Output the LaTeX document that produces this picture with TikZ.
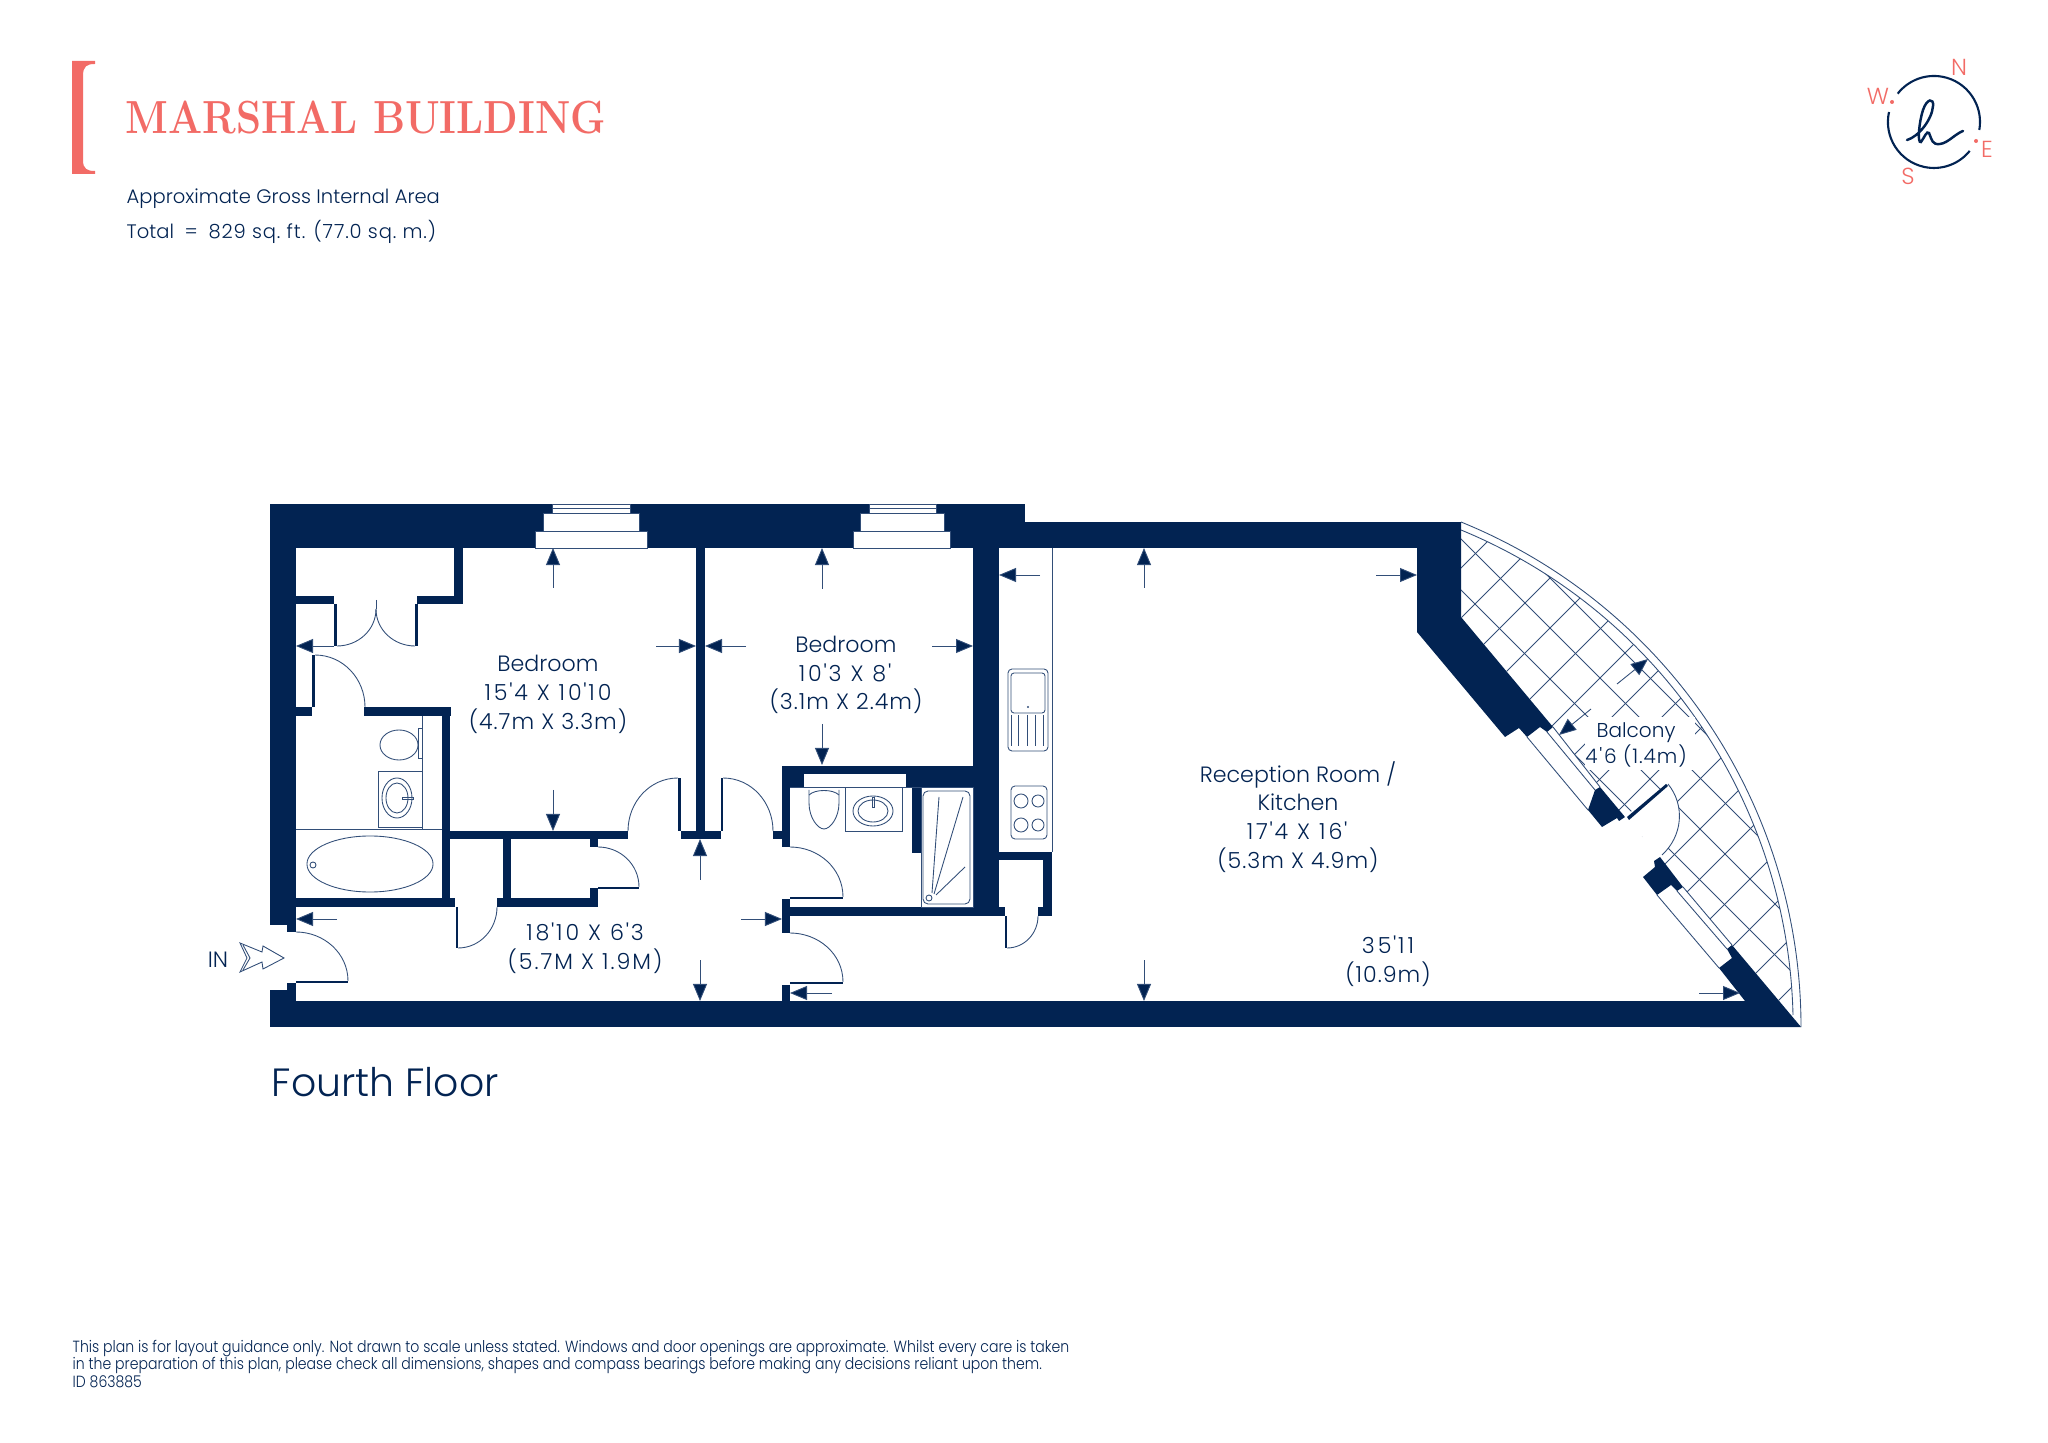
\documentclass[tikz,border=0pt]{standalone}
\usepackage{fontspec}
\setsansfont{Poppins}[UprightFont=*-Light]
\newfontfamily\footfont{Poppins}[UprightFont=*-Light,FakeStretch=0.87]
\usetikzlibrary{arrows.meta}
\definecolor{navy}{RGB}{2,35,82}
\definecolor{linecol}{RGB}{50,78,120}
\definecolor{salmon}{RGB}{242,107,102}
\newcommand{\ft}{\kern.5pt\textquotesingle\kern.5pt}
\newcommand{\feet}[1]{{\addfontfeature{LetterSpace=13}#1}}
\newcommand{\hallsize}[1]{{\addfontfeature{LetterSpace=9}#1}}
\newcommand{\metres}[1]{{\addfontfeature{LetterSpace=4.5}#1}}
\tikzset{
    wallfill/.style={fill=navy},
    thinline/.style={draw=linecol,line width=0.25pt},
    dimarrow/.style={draw=linecol,line width=0.25pt,-{Triangle[length=1.7mm,width=1.4mm,fill=navy]}},
    roomlabel/.style={text=navy,align=center,inner sep=0pt,font=\sffamily\fontsize{6.3}{8.2}\selectfont},
    plainlabel/.style={text=navy,anchor=west,inner sep=0pt,font=\sffamily\fontsize{5.55}{7}\selectfont},
    compasslabel/.style={text=salmon,inner sep=0pt,font=\sffamily\fontsize{6.6}{7}\selectfont}
}
\begin{document}
\begin{tikzpicture}[x=0.01cm,y=-0.01cm]
    \useasboundingbox (0,0) rectangle (2048,1443);
    % walls
    \foreach \xa/\ya/\xb/\yb in {270/504/1025/548,1025/522/1461/548,270/504/296/925,287/925/296/932,
        270/990/296/1027,287/983/296/990,270/1001/1745/1027,296/596/334/604,334/604/337/646,
        417/596/463/604,454/548/463/604,415/604/418/646,312/655/315/707,296/707/312/716,
        364/707/451/716,442/716/450/907,296/898/455/907,497/898/598/907,456/907/458/948,
        450/831/628/839,503/839/511/898,590/839/598/847,590/888/598/898,598/887/639/889,
        696/548/705/831,678/778/681/831,681/831/721/839,721/778/723/831,773/831/782/839,
        782/766/790/847,782/766/973/774,790/774/804/787,906/774/973/787,912/787/921/853,
        790/907/973/916,782/899/790/933,790/897/843/899,790/982/843/984,782/985/790/1001,
        973/548/999/916,999/907/1005/916,1005/916/1007/948,999/852/1052/860,1043/860/1052/916,
        1038/907/1052/916,296/1001/1745/1027}
        \fill[wallfill] (\xa,\ya) rectangle (\xb,\yb);
    \fill[wallfill] (1417,548) -- (1461,522) -- (1461,617) -- (1553,727) -- (1547,732) -- (1540,727)
        -- (1527,737) -- (1519,728) -- (1505,737) -- (1417,632) -- cycle;
    \fill[wallfill] (1417,522) rectangle (1461,632);
    \fill[wallfill] (1595,790) -- (1600,787) -- (1625,817) -- (1619,821) -- (1617,818) -- (1602,827) -- (1588,810) -- cycle;
    \fill[wallfill] (1654,861) -- (1660,857) -- (1683,887) -- (1677,891) -- (1671,885) -- (1657,895) -- (1643,877) -- (1655,867) -- cycle;
    \fill[wallfill] (1727,949) -- (1732,945) -- (1801,1027) -- (1700,1027) -- (1745,1001) -- (1719,968) -- (1732,958) -- cycle;
    % windows in the top wall
    \foreach \xa/\xb/\xc/\xd/\xe/\xf in {552/630/543/639/535/647,869/936/860/944/853/950} {
        \filldraw[fill=white,thinline] (\xa,504) rectangle (\xb,513);
        \filldraw[fill=white,thinline] (\xc,513) rectangle (\xd,531);
        \filldraw[fill=white,thinline] (\xe,531) rectangle (\xf,548);
        \draw[thinline] (\xa,508) -- (\xb,508);
    }
    \filldraw[fill=white,draw=none] (804,774) rectangle (906,787);
    % balcony
    \draw[thinline] (1461,522) .. controls (1666.6,605.5) and (1801,805) .. (1801,1027);
    \draw[thinline] (1461,530) .. controls (1658,611) and (1788,802) .. (1793,1015);
    \begin{scope}
        \clip (1461,530) .. controls (1658,611) and (1788,802) .. (1793,1015) -- (1801,1027) -- (1732,945)
            -- (1683,887) -- (1660,857) -- (1625,817) -- (1600,787) -- (1553,727) -- (1461,617) -- cycle;
        \foreach \c in {2029,2079,2128,2178,2229,2278,2329,2379,2429,2479,2529,2579,2629,2679,2729,2779}
            \draw[thinline] (1400,\c-1400) -- (1850,\c-1850);
        \foreach \d in {972,922,871,820}
            \draw[thinline] (1400,1400-\d) -- (1850,1850-\d);
        \fill[white] (1585,717) rectangle (1695,770);
        \fill[white] (1620,820) -- (1668,784) to[out=-51,in=42.6] (1662,855) -- (1650,862) -- cycle;
    \end{scope}
    \fill[wallfill] (1627,817) -- (1666,784) -- (1668,786) -- (1629,820) -- cycle;
    \draw[thinline] (1527,737) -- (1588,810);
    \draw[thinline] (1547,732) -- (1595,790);
    \draw[thinline] (1553,727) -- (1600,787);
    \draw[thinline] (1657,895) -- (1719,968);
    \draw[thinline] (1677,891) -- (1727,949);
    \draw[thinline] (1683,887) -- (1732,945);
    \draw[thinline] (1668,784) to[out=-51,in=42.6] (1662,855);
    % doors
    \draw[thinline] (337,646) to[out=0,in=-90] (376,609);
    \draw[thinline] (415,646) to[out=180,in=-90] (376,609);
    \draw[thinline] (376,600) -- (376,609);
    \draw[thinline] (315,655) to[out=0,in=90] (365,707);
    \draw[thinline] (678,778) to[out=180,in=90] (628,831);
    \draw[thinline] (723,778) to[out=0,in=90] (773,831);
    \draw[thinline] (790,847) to[out=0,in=90] (843,897);
    \draw[thinline] (790,933) to[out=0,in=90] (843,982);
    \draw[thinline] (598,847) to[out=0,in=90] (639,887);
    \draw[thinline] (458,948) to[out=0,in=-90] (497,907);
    \draw[thinline] (1007,948) to[out=0,in=-90] (1038,916);
    \draw[thinline] (296,932) to[out=0,in=90] (348,981);
    \fill[wallfill] (296,981) rectangle (348,983);
    % first bathroom
    \draw[thinline] (422,716) -- (422,829);
    \draw[thinline] (296,829) -- (442,829);
    \draw[thinline] (399,745) ellipse[x radius=.19cm,y radius=.15cm];
    \draw[thinline] (418,728) rectangle (422,758);
    \draw[thinline] (378,771) rectangle (422,827);
    \draw[thinline] (397,798) ellipse[x radius=.15cm,y radius=.20cm];
    \draw[thinline] (397,798) ellipse[x radius=.11cm,y radius=.15cm];
    \draw[thinline] (402,797) rectangle (413,799);
    \draw[thinline] (370,864) ellipse[x radius=.63cm,y radius=.28cm];
    \draw[thinline] (313,865) circle[radius=.03cm];
    % second bathroom
    \draw[thinline] (790,787) -- (921,787);
    \draw[thinline] (921,787) -- (921,907);
    \draw[thinline] (921,787) rectangle (973,907);
    \draw[thinline,rounded corners=.5mm] (923,791) rectangle (970,904);
    \draw[thinline] (929,898) circle[radius=.03cm];
    \draw[thinline] (932,893) -- (939,797);
    \draw[thinline] (934,894) -- (963,797);
    \draw[thinline] (936,895) -- (965,867);
    \draw[thinline] (809,790) -- (809,803) .. controls (809,818) and (818,829) .. (824,829) .. controls (830,829) and (839,818) .. (839,803) -- (839,790);
    \draw[thinline] (809,795) .. controls (815,789) and (833,789) .. (839,795);
    \draw[thinline] (845,787) rectangle (902,831);
    \draw[thinline] (873,811) ellipse[x radius=.20cm,y radius=.15cm];
    \draw[thinline] (873,811) ellipse[x radius=.15cm,y radius=.11cm];
    \draw[thinline] (872,797) rectangle (874,807);
    % kitchen
    \draw[thinline] (1052,548) -- (1052,852);
    \draw[thinline,rounded corners=.4mm] (1008,669) rectangle (1048,751);
    \draw[thinline,rounded corners=.3mm] (1011,673) rectangle (1045,713);
    \fill[linecol] (1028,707) circle[radius=.012cm];
    \foreach \x in {1011,1018,1027,1035,1043}
        \draw[thinline] (\x,715) -- (\x,746);
    \draw[thinline,rounded corners=.4mm] (1011,786) rectangle (1047,839);
    \draw[thinline] (1021,801) circle[radius=.07cm];
    \draw[thinline] (1038,801) circle[radius=.06cm];
    \draw[thinline] (1021,825) circle[radius=.07cm];
    \draw[thinline] (1038,825) circle[radius=.06cm];
    % dimension arrows
    \foreach \xa/\ya/\xb/\yb in {553/588/553/548,553/790/553/831,334/646/296/646,656/646/696/646,
        746/646/705/646,932/646/973/646,822/589/822/548,822/724/822/765,337/919/296/919,
        741/919/782/919,700/880/700/839,700/960/700/1001,832/993/790/993,1040/575/999/575,
        1376/575/1417/575,1144/588/1144/548,1144/960/1144/1001,1699/993/1740/993,
        1591/709/1559/735,1617/684/1648/659}
        \draw[dimarrow] (\xa,\ya) -- (\xb,\yb);
    % entrance arrow
    \draw[thinline] (240,943) -- (262,952) -- (263,946) -- (284,958) -- (263,969) -- (262,962) -- (240,972) -- (247,958) -- cycle;
    \draw[thinline] (243,945) -- (250,958) -- (243,970);
    % room labels
    \node[roomlabel] (bedroomone) at(548,694.5) {Bedroom\\\feet{15\ft4 X 10\ft10}\\\metres{(4.7m X 3.3m)}};
    \node[roomlabel] (bedroomtwo) at(846,675) {Bedroom\\\feet{10\ft3 X 8\ft}\\\metres{(3.1m X 2.4m)}};
    \node[roomlabel] (hall) at(585,948.5) {\feet{18\ft10 X 6\ft3}\\\hallsize{(5.7M X 1.9M)}};
    \node[roomlabel] (reception) at(1298,817) {Reception Room /\\Kitchen\\\feet{17\ft4 X 16\ft}\\\metres{(5.3m X 4.9m)}};
    \node[roomlabel] (length) at(1388,961) {\feet{35\ft11}\\\metres{(10.9m)}};
    \node[roomlabel,font=\sffamily\fontsize{5.7}{7.4}\selectfont] (balcony) at(1636,745) {Balcony\\\metres{4\ft6 (1.4m)}};
    \node[roomlabel] (inlabel) at(218,960) {IN};
    \node[text=navy,anchor=west,inner sep=0pt,font=\sffamily\fontsize{11.2}{13}\selectfont] (floor) at(271,1082) {Fourth Floor};
    % title
    \fill[salmon] (72,61) -- (95,61) -- (95,64) .. controls (87,64) and (83,66) .. (83,76) -- (83,160) .. controls (83,169) and (87,171) .. (95,171) -- (95,174) -- (72,174) -- cycle;
    \node[text=salmon,anchor=west,inner sep=0pt,font=\rmfamily\bfseries\fontsize{13.2}{14}\selectfont] (title) at(125,118) {\scalebox{.865}[1]{MARSHAL BUILDING}};
    \node[plainlabel] (area) at(126,198.5) {Approximate Gross Internal Area};
    \node[plainlabel] (total) at(126,232) {Total\ \ =\ \ \metres{829 sq.~ft. (77.0 sq.~m.)}};
    \node[plainlabel,align=left,font=\footfont\fontsize{4.6}{5}\selectfont] (footer) at(72,1364) {This plan is for layout guidance only. Not drawn to scale unless stated. Windows and door openings are approximate. Whilst every care is taken\\in the preparation of this plan, please check all dimensions, shapes and compass bearings before making any decisions reliant upon them.\\ID 863885};
    % compass
    \draw[draw=navy,line width=0.6pt] (1979.3,130) arc[start angle=-10,end angle=142,radius=.46cm];
    \draw[draw=navy,line width=0.6pt] (1889,112) arc[start angle=167.5,end angle=321,radius=.46cm];
    \draw[draw=navy,line width=0.7pt,line cap=round] (1907,140) .. controls (1918,137) and (1932,120) .. (1933,106) .. controls (1934,98) and (1927,98) .. (1923,110) .. controls (1919,122) and (1917,144) .. (1921,142) .. controls (1924,138) and (1927,130) .. (1929,133) .. controls (1932,140) and (1932,145) .. (1940,144) .. controls (1948,143) and (1955,134) .. (1963,131);
    \fill[salmon] (1892,102) circle[radius=.02cm];
    \fill[salmon] (1976,141) circle[radius=.02cm];
    \node[compasslabel] (north) at(1959,67) {N};
    \node[compasslabel] (west) at(1878,96) {W};
    \node[compasslabel] (east) at(1987,149) {E};
    \node[compasslabel] (south) at(1908,176) {S};
\end{tikzpicture}
\end{document}
